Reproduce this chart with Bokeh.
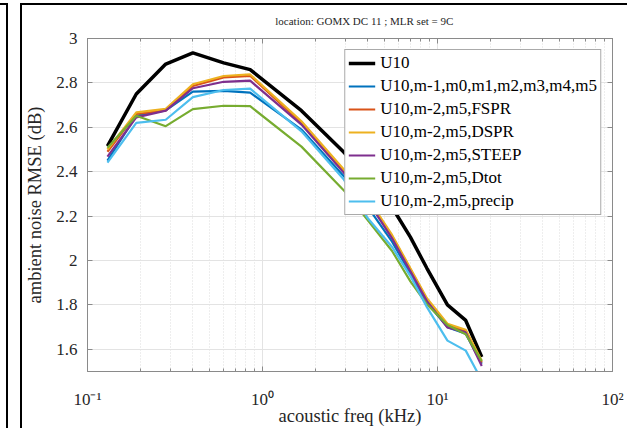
from bokeh.plotting import figure
from bokeh.models import FixedTicker, LinearAxis, LogAxis, Row, Column, Spacer
from bokeh.core.properties import value
from bokeh.embed import file_html
from bokeh.resources import INLINE

# ---- data ----
freq_khz = [0.13, 0.19, 0.28, 0.40, 0.60, 0.85, 1.67, 2.9, 4.0, 5.5, 7.0, 8.7, 11.4, 14.5, 17.9]

rmse_u10 = [2.515, 2.75, 2.885, 2.935, 2.89, 2.86, 2.675, 2.49, 2.37, 2.24, 2.105, 1.965, 1.80, 1.73, 1.565]
rmse_moments = [2.45, 2.652, 2.676, 2.761, 2.764, 2.756, 2.59, 2.382, 2.24, 2.085, 1.94, 1.81, 1.70, 1.67, 1.535]
rmse_fspr = [2.49, 2.66, 2.676, 2.786, 2.825, 2.832, 2.62, 2.405, 2.275, 2.11, 1.96, 1.825, 1.71, 1.68, 1.54]
rmse_dspr = [2.50, 2.667, 2.683, 2.794, 2.831, 2.838, 2.627, 2.412, 2.28, 2.115, 1.965, 1.83, 1.715, 1.688, 1.548]
rmse_steep = [2.468, 2.645, 2.675, 2.776, 2.805, 2.81, 2.612, 2.397, 2.267, 2.10, 1.951, 1.817, 1.698, 1.676, 1.525]
rmse_dtot = [2.508, 2.652, 2.605, 2.682, 2.697, 2.695, 2.513, 2.318, 2.181, 2.043, 1.906, 1.803, 1.709, 1.668, 1.547]
rmse_precip = [2.441, 2.62, 2.634, 2.736, 2.768, 2.774, 2.582, 2.367, 2.19, 2.061, 1.93, 1.79, 1.639, 1.594, 1.46]

series_labels = ["U10", "U10,m-1,m0,m1,m2,m3,m4,m5", "U10,m-2,m5,FSPR", "U10,m-2,m5,DSPR",
                 "U10,m-2,m5,STEEP", "U10,m-2,m5,Dtot", "U10,m-2,m5,precip"]

x_ticks = [0.1, 1, 10, 100]
x_tick_labels = ["10\u207b\u00b9", "10\u2070", "10\u00b9", "10\u00b2"]
x_minor = [m * d for d in (0.1, 1, 10) for m in range(2, 10)]
y_ticks = [1.6, 1.8, 2.0, 2.2, 2.4, 2.6, 2.8, 3.0]
y_tick_labels = ["1.6", "1.8", "2", "2.2", "2.4", "2.6", "2.8", "3"]

title_text = "location: GOMX DC 11 ; MLR set = 9C"
x_label = "acoustic freq (kHz)"
y_label = "ambient noise RMSE (dB)"

# ---- styles ----
colors = ["#000000", "#0072BD", "#D95319", "#EDB120", "#7E2F8E", "#77AC30", "#4DBEEE"]
widths = [3.5, 2.2, 2.2, 2.2, 2.2, 2.2, 2.2]
FONT = "Liberation Serif"
TXT = "#262626"
AX = "#8a8a8a"

# ---- title strip (a small figure holding only the title text) ----
tfig = figure(width=605, height=22, x_range=(0, 605), y_range=(0, 22),
              output_backend="svg", toolbar_location=None,
              x_axis_location=None, y_axis_location=None, min_border=0)
tfig.outline_line_color = None
tfig.grid.visible = False
tfig.text(x=[319], y=[7], text=[title_text], text_font=value(FONT), text_font_size="11px",
          text_color=TXT, text_align="center", text_baseline="middle")

# ---- main plot ----
p = figure(width=605, height=401, x_axis_type="log", x_range=(0.1, 100), y_range=(1.5, 3.0),
           output_backend="svg", toolbar_location=None,
           min_border_left=65, min_border_right=15, min_border_top=11, min_border_bottom=54)

series = [rmse_u10, rmse_moments, rmse_fspr, rmse_dspr, rmse_steep, rmse_dtot, rmse_precip]
for ys, lab, c, w in zip(series, series_labels, colors, widths):
    p.line(freq_khz, ys, line_color=c, line_width=w, legend_label=lab)

xt = FixedTicker(ticks=x_ticks, minor_ticks=x_minor)
yt = FixedTicker(ticks=y_ticks, minor_ticks=[])

def style_axis(ax):
    ax.axis_line_color = AX
    ax.major_tick_line_color = AX
    ax.minor_tick_line_color = AX
    ax.major_tick_in = 5
    ax.major_tick_out = 0
    ax.minor_tick_in = 3
    ax.minor_tick_out = 0
    ax.major_label_text_font = FONT
    ax.major_label_text_font_size = "17px"
    ax.major_label_text_color = TXT
    ax.axis_label_text_font = FONT
    ax.axis_label_text_font_size = "18.5px"
    ax.axis_label_text_font_style = "normal"
    ax.axis_label_text_color = TXT

xa = p.xaxis[0]
xa.ticker = xt
xa.major_label_overrides = dict(zip(x_ticks, x_tick_labels))
xa.axis_label = x_label
style_axis(xa)
xa.major_label_standoff = 18
xa.axis_label_standoff = -6

ya = p.yaxis[0]
ya.ticker = yt
ya.major_label_overrides = dict(zip(y_ticks, y_tick_labels))
ya.axis_label = y_label
style_axis(ya)
ya.minor_tick_line_color = None
ya.major_label_standoff = 10
ya.axis_label_standoff = 8

top = LogAxis(ticker=xt, major_label_overrides={t: "" for t in x_ticks})
style_axis(top)
top.major_label_text_font_size = "0px"
top.major_label_standoff = 0
p.add_layout(top, "above")

right = LinearAxis(ticker=yt, major_label_overrides={t: "" for t in y_ticks})
style_axis(right)
right.minor_tick_line_color = None
right.major_label_text_font_size = "0px"
right.major_label_standoff = 0
p.add_layout(right, "right")

p.outline_line_color = AX
p.xgrid.ticker = xt
p.ygrid.ticker = yt
p.xgrid.grid_line_color = "#e3e3e3"
p.ygrid.grid_line_color = "#e3e3e3"
p.xgrid.minor_grid_line_color = "#dcdcdc"
p.xgrid.minor_grid_line_dash = "1 2"

lg = p.legend[0]
lg.location = "top_right"
lg.margin = 11
lg.padding = 3
lg.spacing = 3
lg.label_height = 20
lg.glyph_height = 20
lg.glyph_width = 27
lg.label_standoff = 5
lg.label_text_font = FONT
lg.label_text_font_size = "17px"
lg.label_text_color = "#000000"
lg.border_line_color = "#555555"
lg.border_line_width = 1
lg.background_fill_alpha = 1.0
lg.click_policy = "none"

# black panel frame lines of the screenshot (left neighbour panel edge + this panel's edge)
BLACK = {"background-color": "black"}
frag_col = Column(children=[
    Spacer(width=8, height=3),
    Spacer(width=8, height=2, styles=BLACK),
    Row(children=[Spacer(width=6, height=423), Spacer(width=2, height=423, styles=BLACK)]),
])
gap = Spacer(width=12, height=428)
main_col = Column(children=[
    Spacer(width=607, height=3),
    Spacer(width=607, height=2, styles=BLACK),
    Row(children=[Spacer(width=2, height=423, styles=BLACK), Column(children=[tfig, p])]),
])
root = Row(children=[frag_col, gap, main_col])

open("out.html", "w").write(file_html(root, INLINE))
